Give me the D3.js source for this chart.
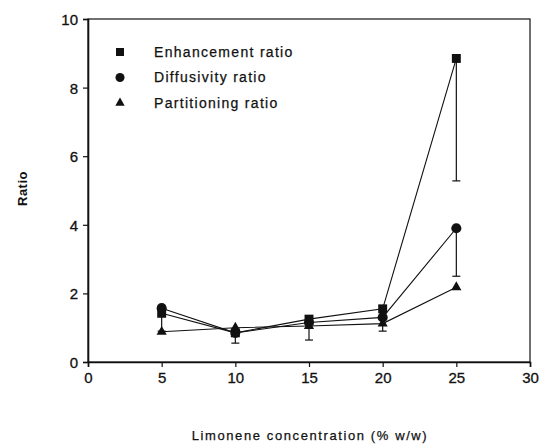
<!DOCTYPE html>
<html>
<head>
<meta charset="utf-8">
<script src="https://cdn.jsdelivr.net/npm/d3@7"></script>
<style>
  body { margin: 0; background: #fff; }
  text { font-family: Arial, "Liberation Sans", sans-serif; fill: #111; }
</style>
</head>
<body>
<div id="chart"></div>
<script>
// limonene concentration (% w/w)
var conc = [5, 10, 15, 20, 25];

// ratios
var enhancement  = [1.42, 0.85, 1.25, 1.55, 8.85];
var diffusivity  = [1.57, 0.85, 1.15, 1.3, 3.9];
var partitioning = [0.88, 1.0, 1.05, 1.12, 2.18];

// lower ends of the (one sided) error bars
var enhancementLow = [0.9, 0.55, 0.64, 0.9, 5.28];
var diffusivityLow = [null, null, null, null, 2.5];

var xTicks = [0, 5, 10, 15, 20, 25, 30];
var yTicks = [0, 2, 4, 6, 8, 10];

var seriesNames = ["Enhancement ratio", "Diffusivity ratio", "Partitioning ratio"];

var width = 540, height = 444;
var margin = { top: 19, right: 10, bottom: 82, left: 88 };

var svg = d3.select("#chart").append("svg")
    .attr("width", width)
    .attr("height", height);

var x = d3.scaleLinear().domain([0, 30]).range([margin.left, width - margin.right]);
var y = d3.scaleLinear().domain([0, 10]).range([height - margin.bottom, margin.top]);

// frame
svg.append("rect")
    .attr("x", x(0)).attr("y", y(10))
    .attr("width", x(30) - x(0)).attr("height", y(0) - y(10))
    .attr("fill", "none").attr("stroke", "#111").attr("stroke-width", 1.2);

// axes
var xAxis = svg.append("g")
    .attr("transform", "translate(0," + y(0) + ")")
    .call(d3.axisBottom(x).tickValues(xTicks).tickSize(5).tickPadding(5));
var yAxis = svg.append("g")
    .attr("transform", "translate(" + x(0) + ",0)")
    .call(d3.axisLeft(y).tickValues(yTicks).tickSize(5).tickPadding(5));

[xAxis, yAxis].forEach(function(a) {
    a.select(".domain").attr("stroke", "#111").attr("stroke-width", 1.6);
    a.selectAll(".tick line").attr("stroke", "#111").attr("stroke-width", 1.2);
    a.selectAll("text")
        .style("font-size", "15px")
        .style("font-family", "Arial, 'Liberation Sans', sans-serif")
        .attr("fill", "#111")
        .attr("stroke", "#111")
        .attr("stroke-width", 0.3);
});
yAxis.selectAll("text").attr("dy", "0.36em");

// axis titles
svg.append("text")
    .attr("transform", "translate(27," + (y(5) - 2) + ") rotate(-90)")
    .attr("text-anchor", "middle")
    .style("font-size", "13px")
    .style("font-weight", "bold")
    .style("letter-spacing", "0.5px")
    .text("Ratio");

svg.append("text")
    .attr("x", (x(0) + x(30)) / 2 + 1)
    .attr("y", 440)
    .attr("text-anchor", "middle")
    .style("font-size", "13px")
    .style("letter-spacing", "1.6px")
    .attr("stroke", "#111").attr("stroke-width", 0.25)
    .text("Limonene concentration (% w/w)");

// error bars
function errorBars(lows, vals) {
    var g = svg.append("g").attr("stroke", "#111").attr("stroke-width", 1.2);
    conc.forEach(function(c, i) {
        if (lows[i] == null) return;
        g.append("line")
            .attr("x1", x(c)).attr("x2", x(c))
            .attr("y1", y(vals[i])).attr("y2", y(lows[i]));
        g.append("line")
            .attr("x1", x(c) - 4).attr("x2", x(c) + 4)
            .attr("y1", y(lows[i])).attr("y2", y(lows[i]));
    });
}
errorBars(enhancementLow, enhancement);
errorBars(diffusivityLow, diffusivity);

// lines
var line = d3.line()
    .x(function(d, i) { return x(conc[i]); })
    .y(function(d) { return y(d); });

[enhancement, diffusivity, partitioning].forEach(function(vals) {
    svg.append("path")
        .datum(vals)
        .attr("d", line)
        .attr("fill", "none")
        .attr("stroke", "#111")
        .attr("stroke-width", 1.1);
});

// markers
var symbols = [
    d3.symbol().type(d3.symbolSquare).size(80),
    d3.symbol().type(d3.symbolCircle).size(80),
    d3.symbol().type(d3.symbolTriangle).size(45)
];

[enhancement, diffusivity, partitioning].forEach(function(vals, k) {
    svg.append("g").selectAll("path")
        .data(vals)
        .enter().append("path")
        .attr("transform", function(d, i) { return "translate(" + x(conc[i]) + "," + y(d) + ")"; })
        .attr("d", symbols[k])
        .attr("fill", "#111");
});

// legend
var legendSymbols = [
    d3.symbol().type(d3.symbolSquare).size(64),
    d3.symbol().type(d3.symbolCircle).size(64),
    d3.symbol().type(d3.symbolTriangle).size(38)
];
var legend = svg.append("g").attr("transform", "translate(120,52)");
seriesNames.forEach(function(name, k) {
    var row = legend.append("g").attr("transform", "translate(0," + (k * 25.5) + ")");
    row.append("path").attr("d", legendSymbols[k]).attr("fill", "#111");
    row.append("text")
        .attr("x", 34)
        .attr("dy", "0.35em")
        .style("font-size", "14px")
        .style("letter-spacing", "1.3px")
        .attr("stroke", "#111").attr("stroke-width", 0.25)
        .text(name);
});
</script>
</body>
</html>
